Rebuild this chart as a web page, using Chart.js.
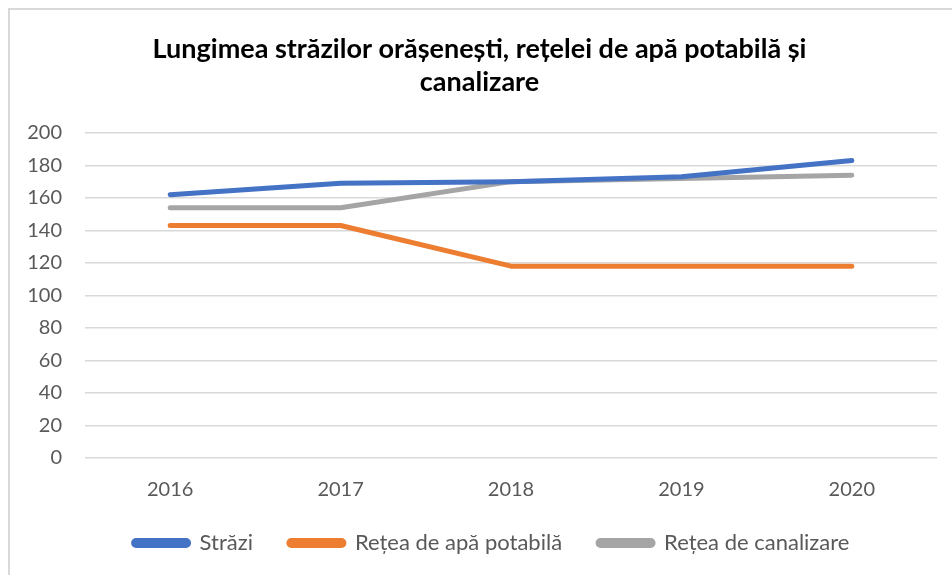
<!DOCTYPE html>
<html>
<head>
<meta charset="utf-8">
<script src="https://cdn.jsdelivr.net/npm/chart.js@4.4.1/dist/chart.umd.min.js"></script>
<style>
  html, body { margin: 0; padding: 0; background: #fff; }
  body { width: 952px; height: 575px; position: relative; overflow: hidden; }
  .frame {
    position: absolute; left: 8px; top: 8px; width: 1000px; height: 620px;
    border: 2px solid #d9d9d9; box-sizing: border-box;
  }
  .wrap { position: absolute; left: 0; top: 0; width: 952px; height: 575px; }
</style>
</head>
<body>
<div class="frame"></div>
<div class="wrap"><canvas id="chart"></canvas></div>
<script>
const years = ["2016", "2017", "2018", "2019", "2020"]
const strazi = [162, 169, 170, 173, 183]
const reteaApa = [143, 143, 118, 118, 118]
const reteaCanalizare = [154, 154, 170, 172, 174]
const yTicks = [0, 20, 40, 60, 80, 100, 120, 140, 160, 180, 200]

const FONT = "Lato, 'Open Sans', sans-serif"
const TEXT = "#595959"
const GRID = "#d9d9d9"

function series(label, data, color) {
  return {
    label,
    data,
    borderColor: color,
    backgroundColor: color,
    borderWidth: 5,
    borderCapStyle: "round",
    borderJoinStyle: "round",
    pointRadius: 0,
    pointHoverRadius: 0,
    tension: 0
  }
}

// title and legend sit centred on the whole frame, not on the canvas minus the right gutter
const nudgeBlocks = {
  id: "nudgeBlocks",
  afterLayout(chart) {
    if (chart.titleBlock) { chart.titleBlock.left += 11; chart.titleBlock.right += 11 }
    if (chart.legend) { chart.legend.left += 23; chart.legend.right += 23 }
  }
}

new Chart(document.getElementById("chart"), {
  type: "line",
  data: {
    labels: years,
    datasets: [
      series("Străzi", strazi, "#4472c4"),
      series("Rețea de apă potabilă", reteaApa, "#ed7d31"),
      series("Rețea de canalizare", reteaCanalizare, "#a5a5a5")
    ]
  },
  plugins: [nudgeBlocks],
  options: {
    responsive: true,
    maintainAspectRatio: false,
    animation: false,
    layout: { padding: { left: 0, right: 15, top: 0, bottom: 11 } },
    plugins: {
      title: {
        display: true,
        text: ["Lungimea străzilor orășenești, rețelei de apă potabilă și", "canalizare"],
        color: "#000",
        font: { family: FONT, size: 27, weight: "bold", lineHeight: 1.22 },
        padding: { top: 33, bottom: 34 }
      },
      legend: {
        position: "bottom",
        labels: {
          color: TEXT,
          font: { family: FONT, size: 22 },
          boxWidth: 55,
          boxHeight: 5,
          useBorderRadius: true,
          borderRadius: 2.5,
          padding: 36
        }
      },
      tooltip: { enabled: false }
    },
    scales: {
      x: {
        offset: true,
        grid: { display: false, drawTicks: false },
        border: { display: false },
        ticks: { color: TEXT, font: { family: FONT, size: 20 }, padding: 20 },
        afterFit: (scale) => { scale.height = 38 }
      },
      y: {
        min: 0,
        max: 200,
        afterBuildTicks: (scale) => { scale.ticks = yTicks.map(v => ({ value: v })) },
        grid: { color: GRID, lineWidth: 1.5, drawTicks: false },
        border: { display: false },
        ticks: { color: TEXT, font: { family: FONT, size: 20 }, padding: 23 },
        afterFit: (scale) => { scale.width = 85 }
      }
    }
  }
})
</script>
</body>
</html>
